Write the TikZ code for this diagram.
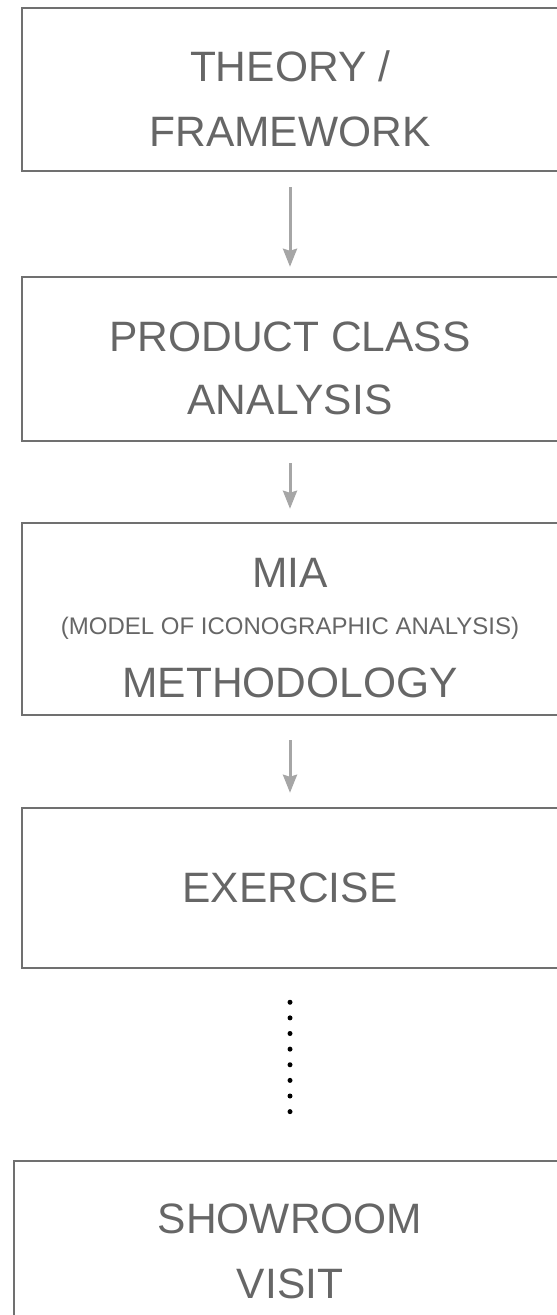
\documentclass[tikz,border=0pt]{standalone}
\usepackage{fontspec}
\setmainfont{Liberation Sans}
\usetikzlibrary{arrows.meta}
\definecolor{boxgray}{HTML}{707070}
\definecolor{txtgray}{HTML}{666666}
\definecolor{arrgray}{HTML}{A6A6A6}
\tikzset{
  box/.style={draw=boxgray, line width=2.5pt, rectangle, inner sep=0pt},
  big/.style={text=txtgray, anchor=base, inner sep=0pt, font=\fontsize{42.5}{42.5}\selectfont},
  small/.style={text=txtgray, anchor=base, inner sep=0pt, font=\fontsize{24}{24}\selectfont},
  conn/.style={draw=arrgray, line width=3pt, -{Stealth[length=18pt,width=14pt,inset=2pt]}},
  dots/.style={draw=black, line width=5pt, line cap=round, dash pattern=on 0pt off 15.625pt}
}
\begin{document}
\begin{tikzpicture}[x=1pt,y=-1pt]
\useasboundingbox (0,0) rectangle (557,1315);
\node[box, minimum width=536pt, minimum height=163pt] (b1) at (290,89.5) {};
\node[box, minimum width=536pt, minimum height=164pt] (b2) at (290,359) {};
\node[box, minimum width=536pt, minimum height=192pt] (b3) at (290,619) {};
\node[box, minimum width=536pt, minimum height=160pt] (b4) at (290,888) {};
\node[box, minimum width=552pt, minimum height=178pt] (b5) at (290,1250) {};
\node[big] (t1a) at (290,81) {THEORY /};
\node[big] (t1b) at (290,146) {FRAMEWORK};
\node[big] (t2a) at (290,351) {PRODUCT CLASS};
\node[big] (t2b) at (290,414) {ANALYSIS};
\node[big] (t3a) at (290,587) {MIA};
\node[small] (t3b) at (290,634) {(MODEL OF ICONOGRAPHIC ANALYSIS)};
\node[big] (t3c) at (290,697) {METHODOLOGY};
\node[big] (t4) at (290,902) {EXERCISE};
\node[big] (t5a) at (290,1233) {SHOWROOM};
\node[big] (t5b) at (290,1298) {VISIT};
\draw[conn, shorten <=15pt, shorten >=9pt] (b1.south) -- (b2.north);
\draw[conn, shorten <=21pt, shorten >=13pt] (b2.south) -- (b3.north);
\draw[conn, shorten <=24pt, shorten >=14pt] (b3.south) -- (b4.north);
\draw[dots, shorten <=33pt, shorten >=35pt] (b4.south) -- (b5.north);
\end{tikzpicture}
\end{document}
